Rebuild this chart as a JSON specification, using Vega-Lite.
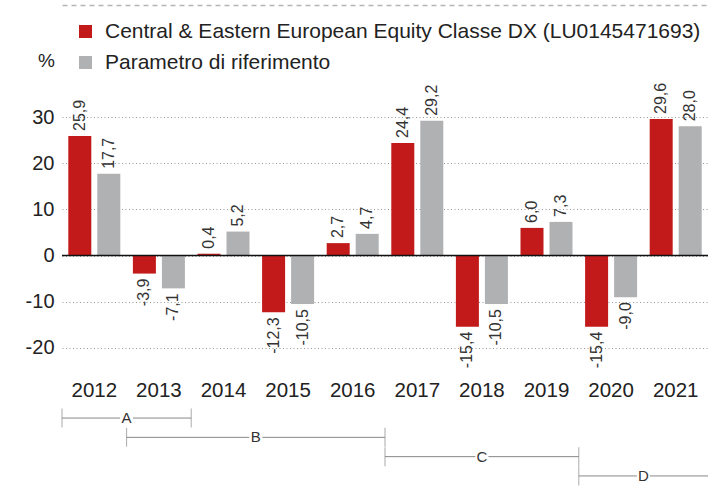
{
  "$schema": "https://vega.github.io/schema/vega-lite/v6.json",
  "autosize": {"type": "none"},
  "padding": {"left": 62, "top": 94, "right": 646, "bottom": 398},
  "background": "white",
  "datasets": {
    "returns": [
      {"year": "2012", "series": "Central & Eastern European Equity Classe DX (LU0145471693)", "value": 25.9},
      {"year": "2013", "series": "Central & Eastern European Equity Classe DX (LU0145471693)", "value": -3.9},
      {"year": "2014", "series": "Central & Eastern European Equity Classe DX (LU0145471693)", "value": 0.4},
      {"year": "2015", "series": "Central & Eastern European Equity Classe DX (LU0145471693)", "value": -12.3},
      {"year": "2016", "series": "Central & Eastern European Equity Classe DX (LU0145471693)", "value": 2.7},
      {"year": "2017", "series": "Central & Eastern European Equity Classe DX (LU0145471693)", "value": 24.4},
      {"year": "2018", "series": "Central & Eastern European Equity Classe DX (LU0145471693)", "value": -15.4},
      {"year": "2019", "series": "Central & Eastern European Equity Classe DX (LU0145471693)", "value": 6.0},
      {"year": "2020", "series": "Central & Eastern European Equity Classe DX (LU0145471693)", "value": -15.4},
      {"year": "2021", "series": "Central & Eastern European Equity Classe DX (LU0145471693)", "value": 29.6},
      {"year": "2012", "series": "Parametro di riferimento", "value": 17.7},
      {"year": "2013", "series": "Parametro di riferimento", "value": -7.1},
      {"year": "2014", "series": "Parametro di riferimento", "value": 5.2},
      {"year": "2015", "series": "Parametro di riferimento", "value": -10.5},
      {"year": "2016", "series": "Parametro di riferimento", "value": 4.7},
      {"year": "2017", "series": "Parametro di riferimento", "value": 29.2},
      {"year": "2018", "series": "Parametro di riferimento", "value": -10.5},
      {"year": "2019", "series": "Parametro di riferimento", "value": 7.3},
      {"year": "2020", "series": "Parametro di riferimento", "value": -9.0},
      {"year": "2021", "series": "Parametro di riferimento", "value": 28.0}
    ],
    "periods": [
      {"label": "A", "from": 2011.5, "to": 2013.5, "mid": 2012.5, "row": 1},
      {"label": "B", "from": 2012.5, "to": 2016.5, "mid": 2014.5, "row": 2},
      {"label": "C", "from": 2016.5, "to": 2019.5, "mid": 2018, "row": 3},
      {"label": "D", "from": 2019.5, "to": 2021.5, "mid": 2020.5, "row": 4}
    ]
  },
  "spacing": 37.4,
  "bounds": "flush",
  "resolve": {"scale": {"x": "independent", "y": "independent"}},
  "vconcat": [
    {
      "width": 646,
      "height": 277,
      "resolve": {"axis": {"x": "independent"}},
      "layer": [
        {
          "data": {"name": "returns"},
          "mark": {"type": "bar"},
          "encoding": {
            "x": {"field": "year", "type": "nominal", "scale": {"paddingInner": 0, "paddingOuter": 0},
              "axis": {"title": null, "labelAngle": 0, "ticks": false, "domain": false, "labelFontSize": 20.5, "labelPadding": 9, "labelColor": "#222"}},
            "xOffset": {"field": "series", "type": "nominal", "sort": ["Central & Eastern European Equity Classe DX (LU0145471693)", "Parametro di riferimento"], "scale": {"paddingInner": 0.207, "paddingOuter": 0.217}},
            "y": {"field": "value", "type": "quantitative", "scale": {"domain": [-25, 35], "nice": false, "zero": false},
              "axis": {"title": "%", "titleAngle": 0, "titleX": -16, "titleY": -34, "titleAlign": "center", "titleBaseline": "middle", "titleFontSize": 19, "titleFontWeight": "normal", "titleColor": "#222",
                "values": [-20, -10, 0, 10, 20, 30], "labelFontSize": 20, "labelColor": "#222", "labelPadding": 8, "ticks": false, "domain": false,
                "grid": true, "gridDash": [1, 2.5], "gridColor": "#999999", "gridWidth": 1}},
            "color": {"field": "series", "type": "nominal",
              "scale": {"domain": ["Central & Eastern European Equity Classe DX (LU0145471693)", "Parametro di riferimento"], "range": ["#c21a1a", "#b0b1b3"]},
              "legend": {"title": null, "orient": "none", "legendX": 13, "legendY": -73, "symbolType": "square", "symbolSize": 169, "symbolStrokeWidth": 0,
                "labelFontSize": 21, "labelColor": "#222", "rowPadding": 9, "labelOffset": 9, "labelLimit": 700}}
          }
        },
        {
          "data": {"name": "returns"},
          "transform": [{"filter": "datum.value >= 0"}],
          "mark": {"type": "text", "angle": 270, "align": "left", "baseline": "middle", "dx": 5, "fontSize": 16, "color": "#333"},
          "encoding": {
            "x": {"field": "year", "type": "nominal",
              "axis": {"orient": "top", "offset": 89, "title": null, "labels": false, "ticks": false, "grid": false, "domain": true, "domainDash": [5, 4], "domainColor": "#b5b5b5", "domainWidth": 1.5}},
            "xOffset": {"field": "series", "type": "nominal", "sort": ["Central & Eastern European Equity Classe DX (LU0145471693)", "Parametro di riferimento"]},
            "y": {"field": "value", "type": "quantitative"},
            "text": {"field": "value", "type": "quantitative", "format": ".1f"}
          }
        },
        {
          "data": {"name": "returns"},
          "transform": [{"filter": "datum.value < 0"}],
          "mark": {"type": "text", "angle": 270, "align": "right", "baseline": "middle", "dx": -5, "fontSize": 16, "color": "#333"},
          "encoding": {
            "x": {"field": "year", "type": "nominal", "axis": null},
            "xOffset": {"field": "series", "type": "nominal", "sort": ["Central & Eastern European Equity Classe DX (LU0145471693)", "Parametro di riferimento"]},
            "y": {"field": "value", "type": "quantitative"},
            "text": {"field": "value", "type": "quantitative", "format": ".1f"}
          }
        },
        {
          "data": {"values": [{}]},
          "mark": {"type": "rule", "color": "#111", "strokeWidth": 1.5},
          "encoding": {"y": {"datum": 0, "type": "quantitative"}}
        }
      ]
    },
    {
      "width": 646,
      "height": 77.2,
      "data": {"name": "periods"},
      "encoding": {
        "y": {"field": "row", "type": "ordinal", "scale": {"type": "point", "padding": 0.5}, "axis": null}
      },
      "layer": [
        {
          "mark": {"type": "rule", "color": "#888", "strokeWidth": 1},
          "encoding": {
            "x": {"field": "from", "type": "quantitative", "scale": {"domain": [2011.5, 2021.5], "nice": false, "zero": false}, "axis": null},
            "x2": {"field": "to"}
          }
        },
        {
          "mark": {"type": "tick", "color": "#888", "size": 19, "thickness": 1},
          "encoding": {"x": {"field": "from", "type": "quantitative"}}
        },
        {
          "transform": [{"filter": "datum.label !== 'D'"}],
          "mark": {"type": "tick", "color": "#888", "size": 19, "thickness": 1},
          "encoding": {"x": {"field": "to", "type": "quantitative"}}
        },
        {
          "mark": {"type": "square", "filled": true, "color": "white", "size": 170, "opacity": 1},
          "encoding": {"x": {"field": "mid", "type": "quantitative"}}
        },
        {
          "mark": {"type": "text", "fontSize": 15, "color": "#333"},
          "encoding": {"x": {"field": "mid", "type": "quantitative"}, "text": {"field": "label"}}
        }
      ]
    }
  ],
  "config": {
    "view": {"stroke": null},
    "font": "Liberation Sans",
    "locale": {"number": {"decimal": ",", "thousands": ".", "grouping": [3], "currency": ["", " €"], "minus": "-"}}
  }
}
